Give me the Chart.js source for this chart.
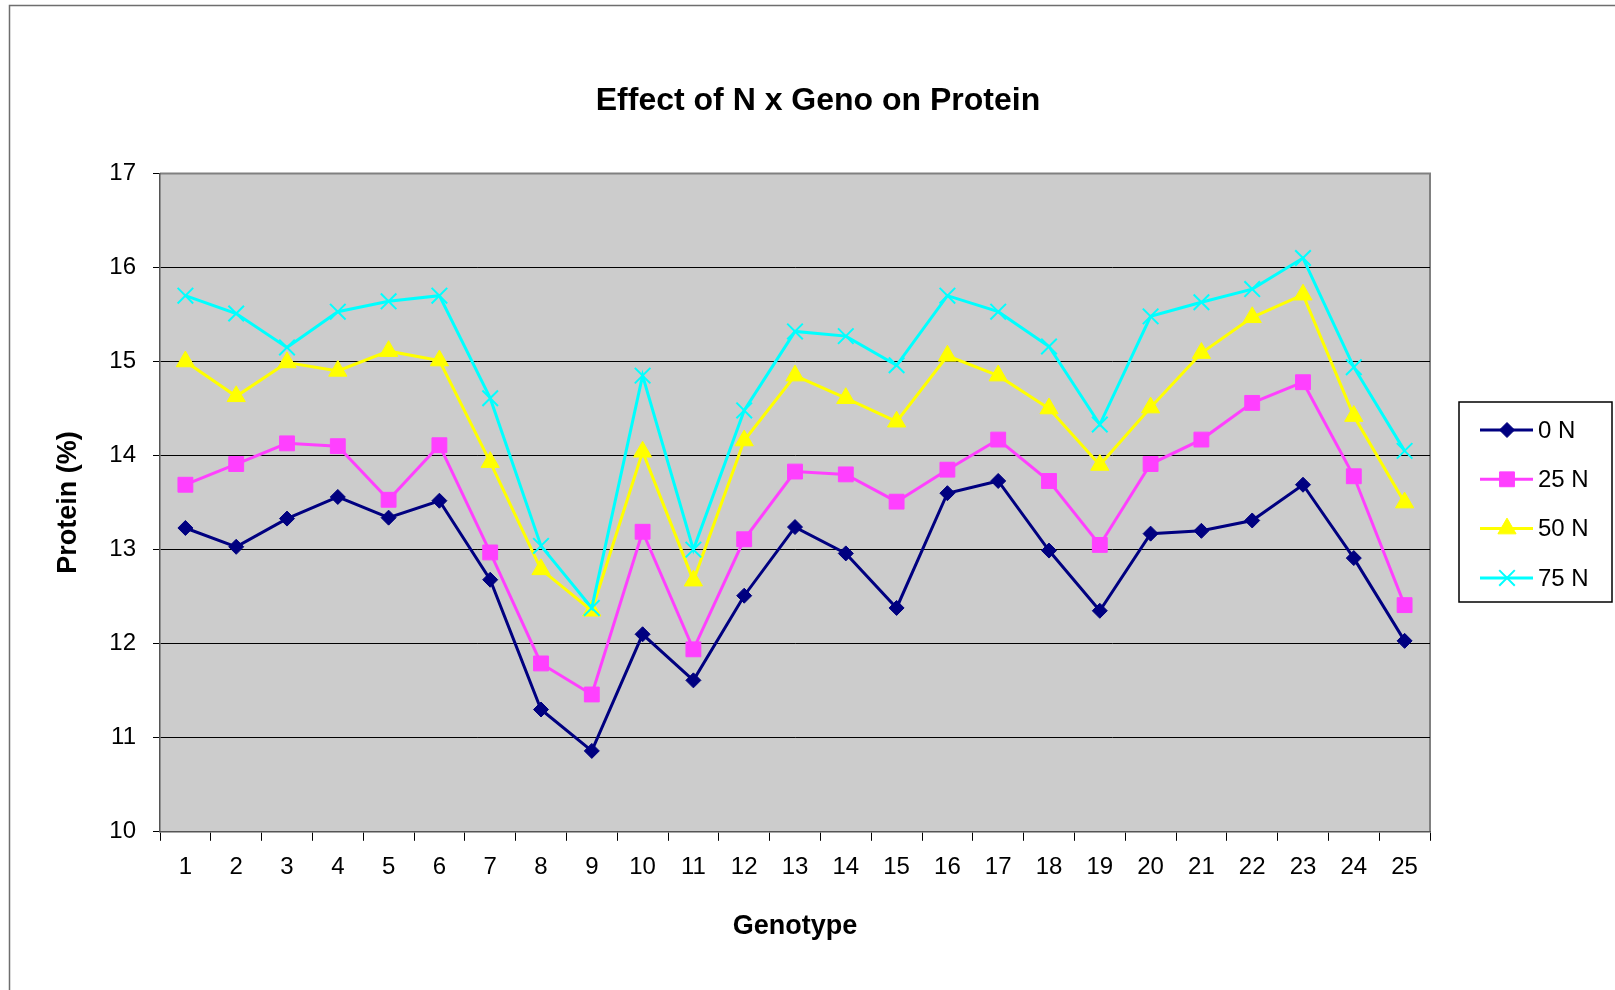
<!DOCTYPE html>
<html lang="en">
<head>
    <meta charset="UTF-8">
    <title>Effect of N x Geno on Protein</title>
    <script src="https://cdn.jsdelivr.net/npm/chart.js"></script>
    <style>
        body {
            margin: 0;
            padding: 0;
            background-color: #fff;
        }
        .chart-box {
            width: 1615px;
            height: 990px;
            position: relative;
        }
    </style>
</head>
<body>
    <div class="chart-box">
        <canvas id="protein-chart"></canvas>
    </div>

    <script>
        // Genotype numbers along the x axis
        const genotypes = ['1', '2', '3', '4', '5', '6', '7', '8', '9', '10', '11', '12', '13',
                           '14', '15', '16', '17', '18', '19', '20', '21', '22', '23', '24', '25'];

        // Protein (%) for each N rate
        const protein0N  = [13.23, 13.03, 13.33, 13.56, 13.34, 13.52, 12.68, 11.30, 10.86, 12.10, 11.61, 12.51, 13.24,
                            12.96, 12.38, 13.60, 13.73, 12.99, 12.35, 13.17, 13.20, 13.31, 13.69, 12.91, 12.03];
        const protein25N = [13.69, 13.91, 14.13, 14.10, 13.53, 14.11, 12.97, 11.79, 11.46, 13.19, 11.94, 13.11, 13.83,
                            13.80, 13.51, 13.85, 14.17, 13.73, 13.05, 13.91, 14.17, 14.56, 14.78, 13.78, 12.41];
        const protein50N = [15.00, 14.63, 14.99, 14.90, 15.11, 15.01, 13.93, 12.79, 12.35, 14.04, 12.67, 14.16, 14.85,
                            14.61, 14.36, 15.06, 14.85, 14.50, 13.90, 14.51, 15.09, 15.47, 15.71, 14.42, 13.50];
        const protein75N = [15.70, 15.51, 15.15, 15.53, 15.64, 15.70, 14.61, 13.04, 12.38, 14.85, 13.00, 14.48, 15.32,
                            15.27, 14.96, 15.70, 15.53, 15.16, 14.33, 15.48, 15.63, 15.77, 16.10, 14.94, 14.05];

        const FONT = "'Liberation Sans', Arial, sans-serif";

        // grey plot area, grey top/right border and the outer frame
        const plotBackground = {
            id: 'plotBackground',
            beforeDraw(chart) {
                const { ctx, chartArea: a } = chart;
                ctx.save();
                ctx.fillStyle = '#cccccc';
                ctx.fillRect(a.left, a.top, a.right - a.left, a.bottom - a.top);
                ctx.strokeStyle = '#808080';
                ctx.lineWidth = 2;
                ctx.beginPath();
                ctx.moveTo(a.left, a.top);
                ctx.lineTo(a.right, a.top);
                ctx.lineTo(a.right, a.bottom);
                ctx.stroke();
                // frame around the chart object
                ctx.strokeStyle = '#6e6e6e';
                ctx.lineWidth = 1.5;
                ctx.beginPath();
                ctx.moveTo(9.5, chart.height);
                ctx.lineTo(9.5, 5.5);
                ctx.lineTo(chart.width, 5.5);
                ctx.stroke();
                ctx.restore();
            }
        };

        // Excel-style legend: boxed, line segment with marker
        const boxedLegend = {
            id: 'boxedLegend',
            afterDraw(chart) {
                const { ctx } = chart;
                const left = 1459, top = 402, width = 153, height = 200;
                ctx.save();
                ctx.strokeStyle = '#000';
                ctx.lineWidth = 1.5;
                ctx.strokeRect(left, top, width, height);
                ctx.font = '24px ' + FONT;
                ctx.textBaseline = 'middle';
                ctx.textAlign = 'left';
                chart.data.datasets.forEach((ds, i) => {
                    const y = top + 28 + i * 49.3;
                    ctx.strokeStyle = ds.borderColor;
                    ctx.lineWidth = 3;
                    ctx.beginPath();
                    ctx.moveTo(left + 21, y);
                    ctx.lineTo(left + 74, y);
                    ctx.stroke();
                    ctx.fillStyle = ds.backgroundColor;
                    ctx.strokeStyle = ds.pointBorderColor;
                    ctx.lineWidth = ds.pointBorderWidth;
                    Chart.helpers.drawPoint(ctx, {
                        pointStyle: ds.pointStyle,
                        radius: ds.pointRadius,
                        rotation: 0,
                        borderWidth: ds.pointBorderWidth
                    }, left + 48, y);
                    ctx.fillStyle = '#000';
                    ctx.fillText(ds.label, left + 79, y + 1);
                });
                ctx.restore();
            }
        };

        const ctx1 = document.getElementById('protein-chart').getContext('2d');
        new Chart(ctx1, {
            type: 'line',
            data: {
                labels: genotypes,
                datasets: [{
                    label: '0 N',
                    data: protein0N,
                    borderColor: '#000080',
                    backgroundColor: '#000080',
                    pointBorderColor: '#000080',
                    pointStyle: 'rectRot',
                    pointRadius: 7.5,
                    pointBorderWidth: 1,
                    borderWidth: 3,
                    order: 4
                }, {
                    label: '25 N',
                    data: protein25N,
                    borderColor: '#ff40ff',
                    backgroundColor: '#ff40ff',
                    pointBorderColor: '#ff40ff',
                    pointStyle: 'rect',
                    pointRadius: 10.5,
                    pointBorderWidth: 1,
                    borderWidth: 3,
                    order: 3
                }, {
                    label: '50 N',
                    data: protein50N,
                    borderColor: '#ffff00',
                    backgroundColor: '#ffff00',
                    pointBorderColor: '#ffff00',
                    pointStyle: 'triangle',
                    pointRadius: 10.5,
                    pointBorderWidth: 1,
                    borderWidth: 3,
                    order: 2
                }, {
                    label: '75 N',
                    data: protein75N,
                    borderColor: '#00ffff',
                    backgroundColor: '#00ffff',
                    pointBorderColor: '#00ffff',
                    pointStyle: 'crossRot',
                    pointRadius: 11,
                    pointBorderWidth: 2,
                    borderWidth: 3,
                    order: 1
                }]
            },
            options: {
                responsive: true,
                maintainAspectRatio: false,
                animation: false,
                layout: {
                    padding: { left: 21, right: 0, top: 0, bottom: 47 }
                },
                plugins: {
                    legend: { display: false },
                    tooltip: { enabled: false },
                    title: {
                        display: true,
                        text: 'Effect of N x Geno on Protein',
                        color: '#000',
                        font: { family: FONT, size: 32, weight: 'bold' },
                        padding: { top: 82, bottom: 53 }
                    }
                },
                scales: {
                    x: {
                        offset: true,
                        grid: {
                            offset: true,
                            drawOnChartArea: false,
                            tickLength: 9,
                            tickColor: '#000'
                        },
                        border: { color: '#555', width: 1.5 },
                        ticks: {
                            color: '#000',
                            font: { family: FONT, size: 24 },
                            padding: 12,
                            maxRotation: 0,
                            autoSkip: false
                        },
                        title: {
                            display: true,
                            text: 'Genotype',
                            color: '#000',
                            font: { family: FONT, size: 27, weight: 'bold' },
                            padding: { top: 17, bottom: 0 }
                        }
                    },
                    y: {
                        min: 10,
                        max: 17,
                        grid: {
                            color: c => (c.tick && c.tick.value === 17 ? '#808080' : '#000'),
                            tickColor: '#000',
                            tickLength: 7
                        },
                        border: { color: '#555', width: 1.5 },
                        ticks: {
                            stepSize: 1,
                            color: '#000',
                            font: { family: FONT, size: 24 },
                            padding: 17
                        },
                        title: {
                            display: true,
                            text: 'Protein (%)',
                            color: '#000',
                            font: { family: FONT, size: 27, weight: 'bold' },
                            padding: { top: 31, bottom: 0 }
                        },
                        afterFit: s => { s.width = 139; }
                    },
                    // empty axis that only reserves room for the legend on the right
                    legendRoom: {
                        type: 'linear',
                        position: 'right',
                        grid: { display: false },
                        border: { display: false },
                        ticks: { display: false },
                        afterFit: s => { s.width = 185; }
                    }
                }
            },
            plugins: [plotBackground, boxedLegend]
        });
    </script>
</body>
</html>
